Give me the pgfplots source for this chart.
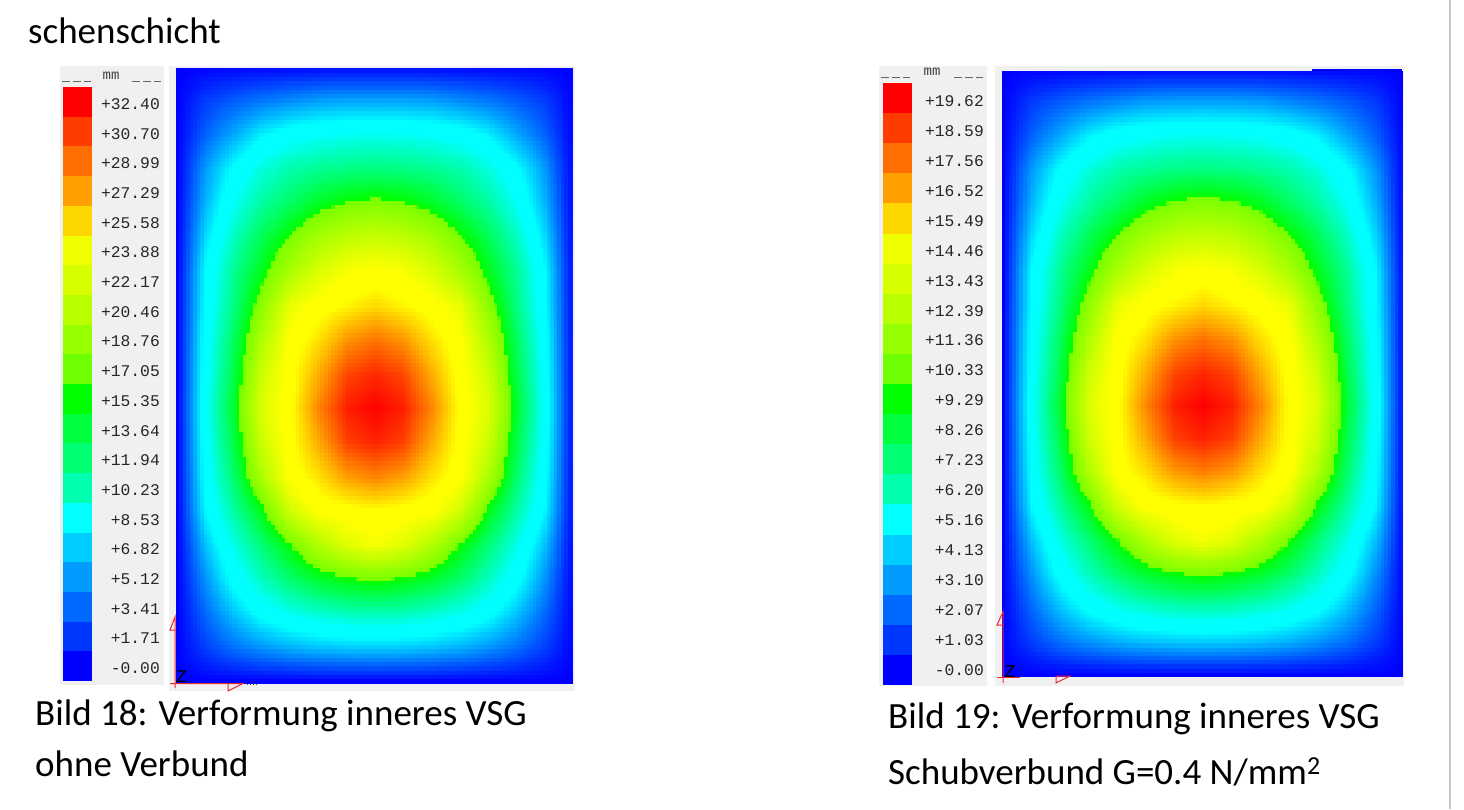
\documentclass[border=0pt]{standalone}
\usepackage{pgfplots}
\pgfplotsset{compat=1.18}
\usepgfplotslibrary{patchplots}
\usepackage{fontspec}
\setmainfont{Carlito}
\newfontfamily\monof{Liberation Mono}
\definecolor{bgp}{HTML}{F0F0F0}
\definecolor{triad}{RGB}{235,40,50}
\pgfplotsset{
  colormap={fe}{rgb255(0)=(0,0,255) rgb255(240)=(0,255,255) rgb255(285)=(0,255,255) rgb255(500)=(0,255,0) rgb255(501)=(120,255,0) rgb255(737)=(255,255,0) rgb255(770)=(255,255,0) rgb255(1000)=(255,0,0)},
  feaxis/.style={scale only axis, hide axis, view={0}{90}, xmin=0,xmax=14,ymin=0,ymax=18, colormap name=fe, clip=true},
  fesurf/.style={surf, shader=interp, patch type=bilinear, mesh/cols=15}
}
\newcommand{\lab}[3]{\node[anchor=east,inner sep=0pt,text=black!85,font=\monof\fontsize{16.3}{16}\selectfont] at (#1,#2) {#3};}
\begin{document}
\begin{tikzpicture}[x=1pt,y=-1pt]
\useasboundingbox (0,0) rectangle (1464,809);
\fill[white] (0,0) rectangle (1464,809);
\draw[black!22,line width=1.2pt] (1450,0) -- (1450,809);
\node[anchor=base west,inner sep=0pt,font=\fontsize{37}{37}\selectfont] at (28,43) {schenschicht};
\node[anchor=base west,inner sep=0pt,font=\fontsize{37}{37}\selectfont] at (35,725) {Bild 18: Verformung inneres VSG};
\node[anchor=base west,inner sep=0pt,font=\fontsize{37}{37}\selectfont] at (35,776) {ohne Verbund};
\node[anchor=base west,inner sep=0pt,font=\fontsize{37}{37}\selectfont] at (888,728) {Bild 19: Verformung inneres VSG};
\node[anchor=base west,inner sep=0pt,font=\fontsize{37}{37}\selectfont] at (888,784) {Schubverbund G=0.4 N/mm\textsuperscript{2}};
% panels
\fill[bgp] (60,66) rectangle (164,685);
\fill[bgp] (169,66) rectangle (575,691);
\fill[bgp] (879,66) rectangle (987,686);
\fill[bgp] (995,66) rectangle (1404,686);
% swatches
\foreach \i/\c in {0/{255,0,0},1/{255,60,0},2/{255,110,0},3/{255,160,0},4/{255,215,0},5/{240,255,0},6/{215,255,0},7/{185,255,0},8/{150,255,0},9/{110,255,0},10/{0,255,0},11/{0,255,60},12/{0,255,115},13/{0,255,175},14/{0,255,255},15/{0,205,255},16/{0,155,255},17/{0,105,255},18/{0,55,255},19/{0,0,255}}{
  \definecolor{sw}{RGB}{\c}
  \fill[sw] (63,87+\i*29.7) rectangle (92,87+\i*29.7+29.9);
  \fill[sw] (883,83+\i*30.1) rectangle (912,83+\i*30.1+30.3);
}
% legend headings
\foreach \a/\b in {62/91,132/160}{\draw[black!60,line width=1pt] (\a,81) -- +(8,0) (\a+11,81) -- +(8,0) (\a+22,81) -- +(7,0);}
\foreach \a/\b in {881/911,954/984}{\draw[black!60,line width=1pt] (\a,77) -- +(8,0) (\a+11,77) -- +(8,0) (\a+22,77) -- +(7,0);}
\node[inner sep=0pt,text=black!75,font=\monof\fontsize{14}{14}\selectfont] at (111,76) {mm};
\node[inner sep=0pt,text=black!75,font=\monof\fontsize{14}{14}\selectfont] at (932,72) {mm};
\foreach \t [count=\i from 0] in {+32.40,+30.70,+28.99,+27.29,+25.58,+23.88,+22.17,+20.46,+18.76,+17.05,+15.35,+13.64,+11.94,+10.23,+8.53,+6.82,+5.12,+3.41,+1.71,-0.00}{\lab{160}{104+\i*29.7}{\t}}
\foreach \t [count=\i from 0] in {+19.62,+18.59,+17.56,+16.52,+15.49,+14.46,+13.43,+12.39,+11.36,+10.33,+9.29,+8.26,+7.23,+6.20,+5.16,+4.13,+3.10,+2.07,+1.03,-0.00}{\lab{984}{101+\i*29.95}{\t}}
% left field
\begin{axis}[feaxis, at={(176pt,-683pt)}, anchor=south west, width=396pt, height=615pt, point meta min=0, point meta max=32.4]
\addplot3[fesurf] coordinates {
(0,18,0)(1,18,0)(2,18,0)(3,18,0)(4,18,0)(5,18,0)(6,18,0)(7,18,0)(8,18,0)(9,18,0)(10,18,0)(11,18,0)(12,18,0)(13,18,0)(14,18,0)
(0,17,0)(1,17,1.8)(2,17,2.8)(3,17,3.6)(4,17,4.2)(5,17,4.8)(6,17,5)(7,17,5)(8,17,5)(9,17,4.8)(10,17,4.2)(11,17,3.6)(12,17,2.8)(13,17,1.8)(14,17,0)
(0,16,0)(1,16,3)(2,16,5.2)(3,16,7.4)(4,16,8.7)(5,16,9.2)(6,16,9.5)(7,16,9.6)(8,16,9.5)(9,16,9.2)(10,16,8.7)(11,16,7.4)(12,16,5.2)(13,16,3)(14,16,0)
(0,15,0)(1,15,4.7)(2,15,8)(3,15,10.2)(4,15,11.5)(5,15,12.2)(6,15,12.6)(7,15,12.8)(8,15,12.6)(9,15,12.2)(10,15,11.5)(11,15,10.2)(12,15,8)(13,15,4.7)(14,15,0)
(0,14,0)(1,14,5.5)(2,14,9.4)(3,14,11.8)(4,14,13.5)(5,14,15.2)(6,14,16.3)(7,14,16.8)(8,14,16.3)(9,14,15.2)(10,14,13.5)(11,14,11.8)(12,14,9.4)(13,14,5.5)(14,14,0)
(0,13,0)(1,13,6.7)(2,13,11)(3,13,13.9)(4,13,16.5)(5,13,18.8)(6,13,20.2)(7,13,20.7)(8,13,20.2)(9,13,18.8)(10,13,16.5)(11,13,13.9)(12,13,11)(13,13,6.7)(14,13,0)
(0,12,0)(1,12,7.8)(2,12,12.2)(3,12,15.5)(4,12,19)(5,12,21.8)(6,12,23.6)(7,12,24.2)(8,12,23.6)(9,12,21.8)(10,12,19)(11,12,15.5)(12,12,12.2)(13,12,7.8)(14,12,0)
(0,11,0)(1,11,8)(2,11,12.7)(3,11,17.4)(4,11,22.6)(5,11,24.4)(6,11,25.2)(7,11,26)(8,11,25.2)(9,11,24.4)(10,11,22.6)(11,11,17.4)(12,11,12.7)(13,11,8)(14,11,0)
(0,10,0)(1,10,8.5)(2,10,13.7)(3,10,19.3)(4,10,24.2)(5,10,25.8)(6,10,28)(7,10,29)(8,10,28)(9,10,25.8)(10,10,24.2)(11,10,19.3)(12,10,13.7)(13,10,8.5)(14,10,0)
(0,9,0)(1,9,8.7)(2,9,14.3)(3,9,21)(4,9,24.5)(5,9,27.3)(6,9,30.3)(7,9,31.2)(8,9,30.3)(9,9,27.3)(10,9,24.5)(11,9,21)(12,9,14.3)(13,9,8.7)(14,9,0)
(0,8,0)(1,8,9)(2,8,15)(3,8,21.9)(4,8,24.7)(5,8,28.5)(6,8,31.5)(7,8,32.4)(8,8,31.5)(9,8,28.5)(10,8,24.7)(11,8,21.9)(12,8,15)(13,8,9)(14,8,0)
(0,7,0)(1,7,8.7)(2,7,14.3)(3,7,21)(4,7,24.6)(5,7,27.4)(6,7,30.5)(7,7,31.4)(8,7,30.5)(9,7,27.4)(10,7,24.6)(11,7,21)(12,7,14.3)(13,7,8.7)(14,7,0)
(0,6,0)(1,6,8.3)(2,6,13.3)(3,6,19.2)(4,6,24.3)(5,6,25.8)(6,6,27.8)(7,6,28.6)(8,6,27.8)(9,6,25.8)(10,6,24.3)(11,6,19.2)(12,6,13.3)(13,6,8.3)(14,6,0)
(0,5,0)(1,5,7.6)(2,5,11.8)(3,5,15.7)(4,5,21.4)(5,5,24.2)(6,5,24.6)(7,5,25)(8,5,24.6)(9,5,24.2)(10,5,21.4)(11,5,15.7)(12,5,11.8)(13,5,7.6)(14,5,0)
(0,4,0)(1,4,5.9)(2,4,9.9)(3,4,13)(4,4,16.2)(5,4,19.5)(6,4,22.2)(7,4,23.4)(8,4,22.2)(9,4,19.5)(10,4,16.2)(11,4,13)(12,4,9.9)(13,4,5.9)(14,4,0)
(0,3,0)(1,3,4.5)(2,3,8.4)(3,3,11)(4,3,13.3)(5,3,15)(6,3,16)(7,3,16.6)(8,3,16)(9,3,15)(10,3,13.3)(11,3,11)(12,3,8.4)(13,3,4.5)(14,3,0)
(0,2,0)(1,2,3.2)(2,2,6)(3,2,8.3)(4,2,9.7)(5,2,10.6)(6,2,11.2)(7,2,11.4)(8,2,11.2)(9,2,10.6)(10,2,9.7)(11,2,8.3)(12,2,6)(13,2,3.2)(14,2,0)
(0,1,0)(1,1,1.9)(2,1,3.5)(3,1,4.6)(4,1,5.5)(5,1,6)(6,1,6.3)(7,1,6.4)(8,1,6.3)(9,1,6)(10,1,5.5)(11,1,4.6)(12,1,3.5)(13,1,1.9)(14,1,0)
(0,0,0)(1,0,0)(2,0,0)(3,0,0)(4,0,0)(5,0,0)(6,0,0)(7,0,0)(8,0,0)(9,0,0)(10,0,0)(11,0,0)(12,0,0)(13,0,0)(14,0,0)
};
\end{axis}
% right field
\begin{axis}[feaxis, at={(1002pt,-676.5pt)}, anchor=south west, width=400.5pt, height=606pt, point meta min=0, point meta max=19.62]
\addplot3[fesurf] coordinates {
(0,18,0)(1,18,0)(2,18,0)(3,18,0)(4,18,0)(5,18,0)(6,18,0)(7,18,0)(8,18,0)(9,18,0)(10,18,0)(11,18,0)(12,18,0)(13,18,0)(14,18,0)
(0,17,0)(1,17,1.09)(2,17,1.7)(3,17,2.18)(4,17,2.55)(5,17,2.91)(6,17,3.03)(7,17,3.03)(8,17,3.03)(9,17,2.91)(10,17,2.55)(11,17,2.18)(12,17,1.7)(13,17,1.09)(14,17,0)
(0,16,0)(1,16,1.82)(2,16,3.15)(3,16,4.48)(4,16,5.27)(5,16,5.58)(6,16,5.76)(7,16,5.82)(8,16,5.76)(9,16,5.58)(10,16,5.27)(11,16,4.48)(12,16,3.15)(13,16,1.82)(14,16,0)
(0,15,0)(1,15,2.85)(2,15,4.85)(3,15,6.18)(4,15,6.97)(5,15,7.39)(6,15,7.64)(7,15,7.76)(8,15,7.64)(9,15,7.39)(10,15,6.97)(11,15,6.18)(12,15,4.85)(13,15,2.85)(14,15,0)
(0,14,0)(1,14,3.33)(2,14,5.7)(3,14,7.15)(4,14,8.2)(5,14,9.3)(6,14,10)(7,14,10.3)(8,14,10)(9,14,9.3)(10,14,8.2)(11,14,7.15)(12,14,5.7)(13,14,3.33)(14,14,0)
(0,13,0)(1,13,4.06)(2,13,6.67)(3,13,8.42)(4,13,10)(5,13,11.39)(6,13,12.24)(7,13,12.55)(8,13,12.24)(9,13,11.39)(10,13,10)(11,13,8.42)(12,13,6.67)(13,13,4.06)(14,13,0)
(0,12,0)(1,12,4.73)(2,12,7.39)(3,12,9.39)(4,12,11.51)(5,12,13.21)(6,12,14.3)(7,12,14.67)(8,12,14.3)(9,12,13.21)(10,12,11.51)(11,12,9.39)(12,12,7.39)(13,12,4.73)(14,12,0)
(0,11,0)(1,11,4.85)(2,11,7.7)(3,11,10.54)(4,11,13.7)(5,11,14.79)(6,11,15.27)(7,11,15.76)(8,11,15.27)(9,11,14.79)(10,11,13.7)(11,11,10.54)(12,11,7.7)(13,11,4.85)(14,11,0)
(0,10,0)(1,10,5.15)(2,10,8.3)(3,10,11.7)(4,10,14.67)(5,10,15.64)(6,10,16.97)(7,10,17.57)(8,10,16.97)(9,10,15.64)(10,10,14.67)(11,10,11.7)(12,10,8.3)(13,10,5.15)(14,10,0)
(0,9,0)(1,9,5.27)(2,9,8.67)(3,9,12.73)(4,9,14.85)(5,9,16.55)(6,9,18.36)(7,9,18.91)(8,9,18.36)(9,9,16.55)(10,9,14.85)(11,9,12.73)(12,9,8.67)(13,9,5.27)(14,9,0)
(0,8,0)(1,8,5.45)(2,8,9.09)(3,8,13.27)(4,8,14.97)(5,8,17.27)(6,8,19.09)(7,8,19.62)(8,8,19.09)(9,8,17.27)(10,8,14.97)(11,8,13.27)(12,8,9.09)(13,8,5.45)(14,8,0)
(0,7,0)(1,7,5.27)(2,7,8.67)(3,7,12.73)(4,7,14.91)(5,7,16.61)(6,7,18.48)(7,7,19.03)(8,7,18.48)(9,7,16.61)(10,7,14.91)(11,7,12.73)(12,7,8.67)(13,7,5.27)(14,7,0)
(0,6,0)(1,6,5.03)(2,6,8.06)(3,6,11.64)(4,6,14.73)(5,6,15.64)(6,6,16.85)(7,6,17.33)(8,6,16.85)(9,6,15.64)(10,6,14.73)(11,6,11.64)(12,6,8.06)(13,6,5.03)(14,6,0)
(0,5,0)(1,5,4.61)(2,5,7.15)(3,5,9.51)(4,5,12.97)(5,5,14.67)(6,5,14.91)(7,5,15.15)(8,5,14.91)(9,5,14.67)(10,5,12.97)(11,5,9.51)(12,5,7.15)(13,5,4.61)(14,5,0)
(0,4,0)(1,4,3.58)(2,4,6)(3,4,7.88)(4,4,9.82)(5,4,11.82)(6,4,13.45)(7,4,14.18)(8,4,13.45)(9,4,11.82)(10,4,9.82)(11,4,7.88)(12,4,6)(13,4,3.58)(14,4,0)
(0,3,0)(1,3,2.73)(2,3,5.09)(3,3,6.67)(4,3,8.06)(5,3,9.09)(6,3,9.7)(7,3,10.06)(8,3,9.7)(9,3,9.09)(10,3,8.06)(11,3,6.67)(12,3,5.09)(13,3,2.73)(14,3,0)
(0,2,0)(1,2,1.94)(2,2,3.64)(3,2,5.03)(4,2,5.88)(5,2,6.42)(6,2,6.79)(7,2,6.91)(8,2,6.79)(9,2,6.42)(10,2,5.88)(11,2,5.03)(12,2,3.64)(13,2,1.94)(14,2,0)
(0,1,0)(1,1,1.15)(2,1,2.12)(3,1,2.79)(4,1,3.33)(5,1,3.64)(6,1,3.82)(7,1,3.88)(8,1,3.82)(9,1,3.64)(10,1,3.33)(11,1,2.79)(12,1,2.12)(13,1,1.15)(14,1,0)
(0,0,0)(1,0,0)(2,0,0)(3,0,0)(4,0,0)(5,0,0)(6,0,0)(7,0,0)(8,0,0)(9,0,0)(10,0,0)(11,0,0)(12,0,0)(13,0,0)(14,0,0)
};
\end{axis}
\fill[blue] (1312,69) rectangle (1402,71);
% triads
\draw[triad,line width=1pt] (175,688) -- (175,617) -- (170,630) -- (175,630);
\draw[triad,line width=1pt] (170,683.5) -- (243,683.5) -- (228,691) -- (228,683.5);
\node[inner sep=0pt,font=\monof\fontsize{18}{18}\selectfont] at (181.5,677) {Z};
\draw[black!70,line width=1pt,dotted] (247,684) -- (257,684);
\draw[triad,line width=1pt] (1003,683) -- (1003,612) -- (997,625) -- (1003,625);
\draw[triad,line width=1pt] (997,677.5) -- (1020,677.5);
\draw[triad,line width=1pt] (1056,676) -- (1070,676) -- (1056,683) -- cycle;
\node[inner sep=0pt,font=\monof\fontsize{18}{18}\selectfont] at (1010,671.5) {Z};
\end{tikzpicture}
\end{document}
